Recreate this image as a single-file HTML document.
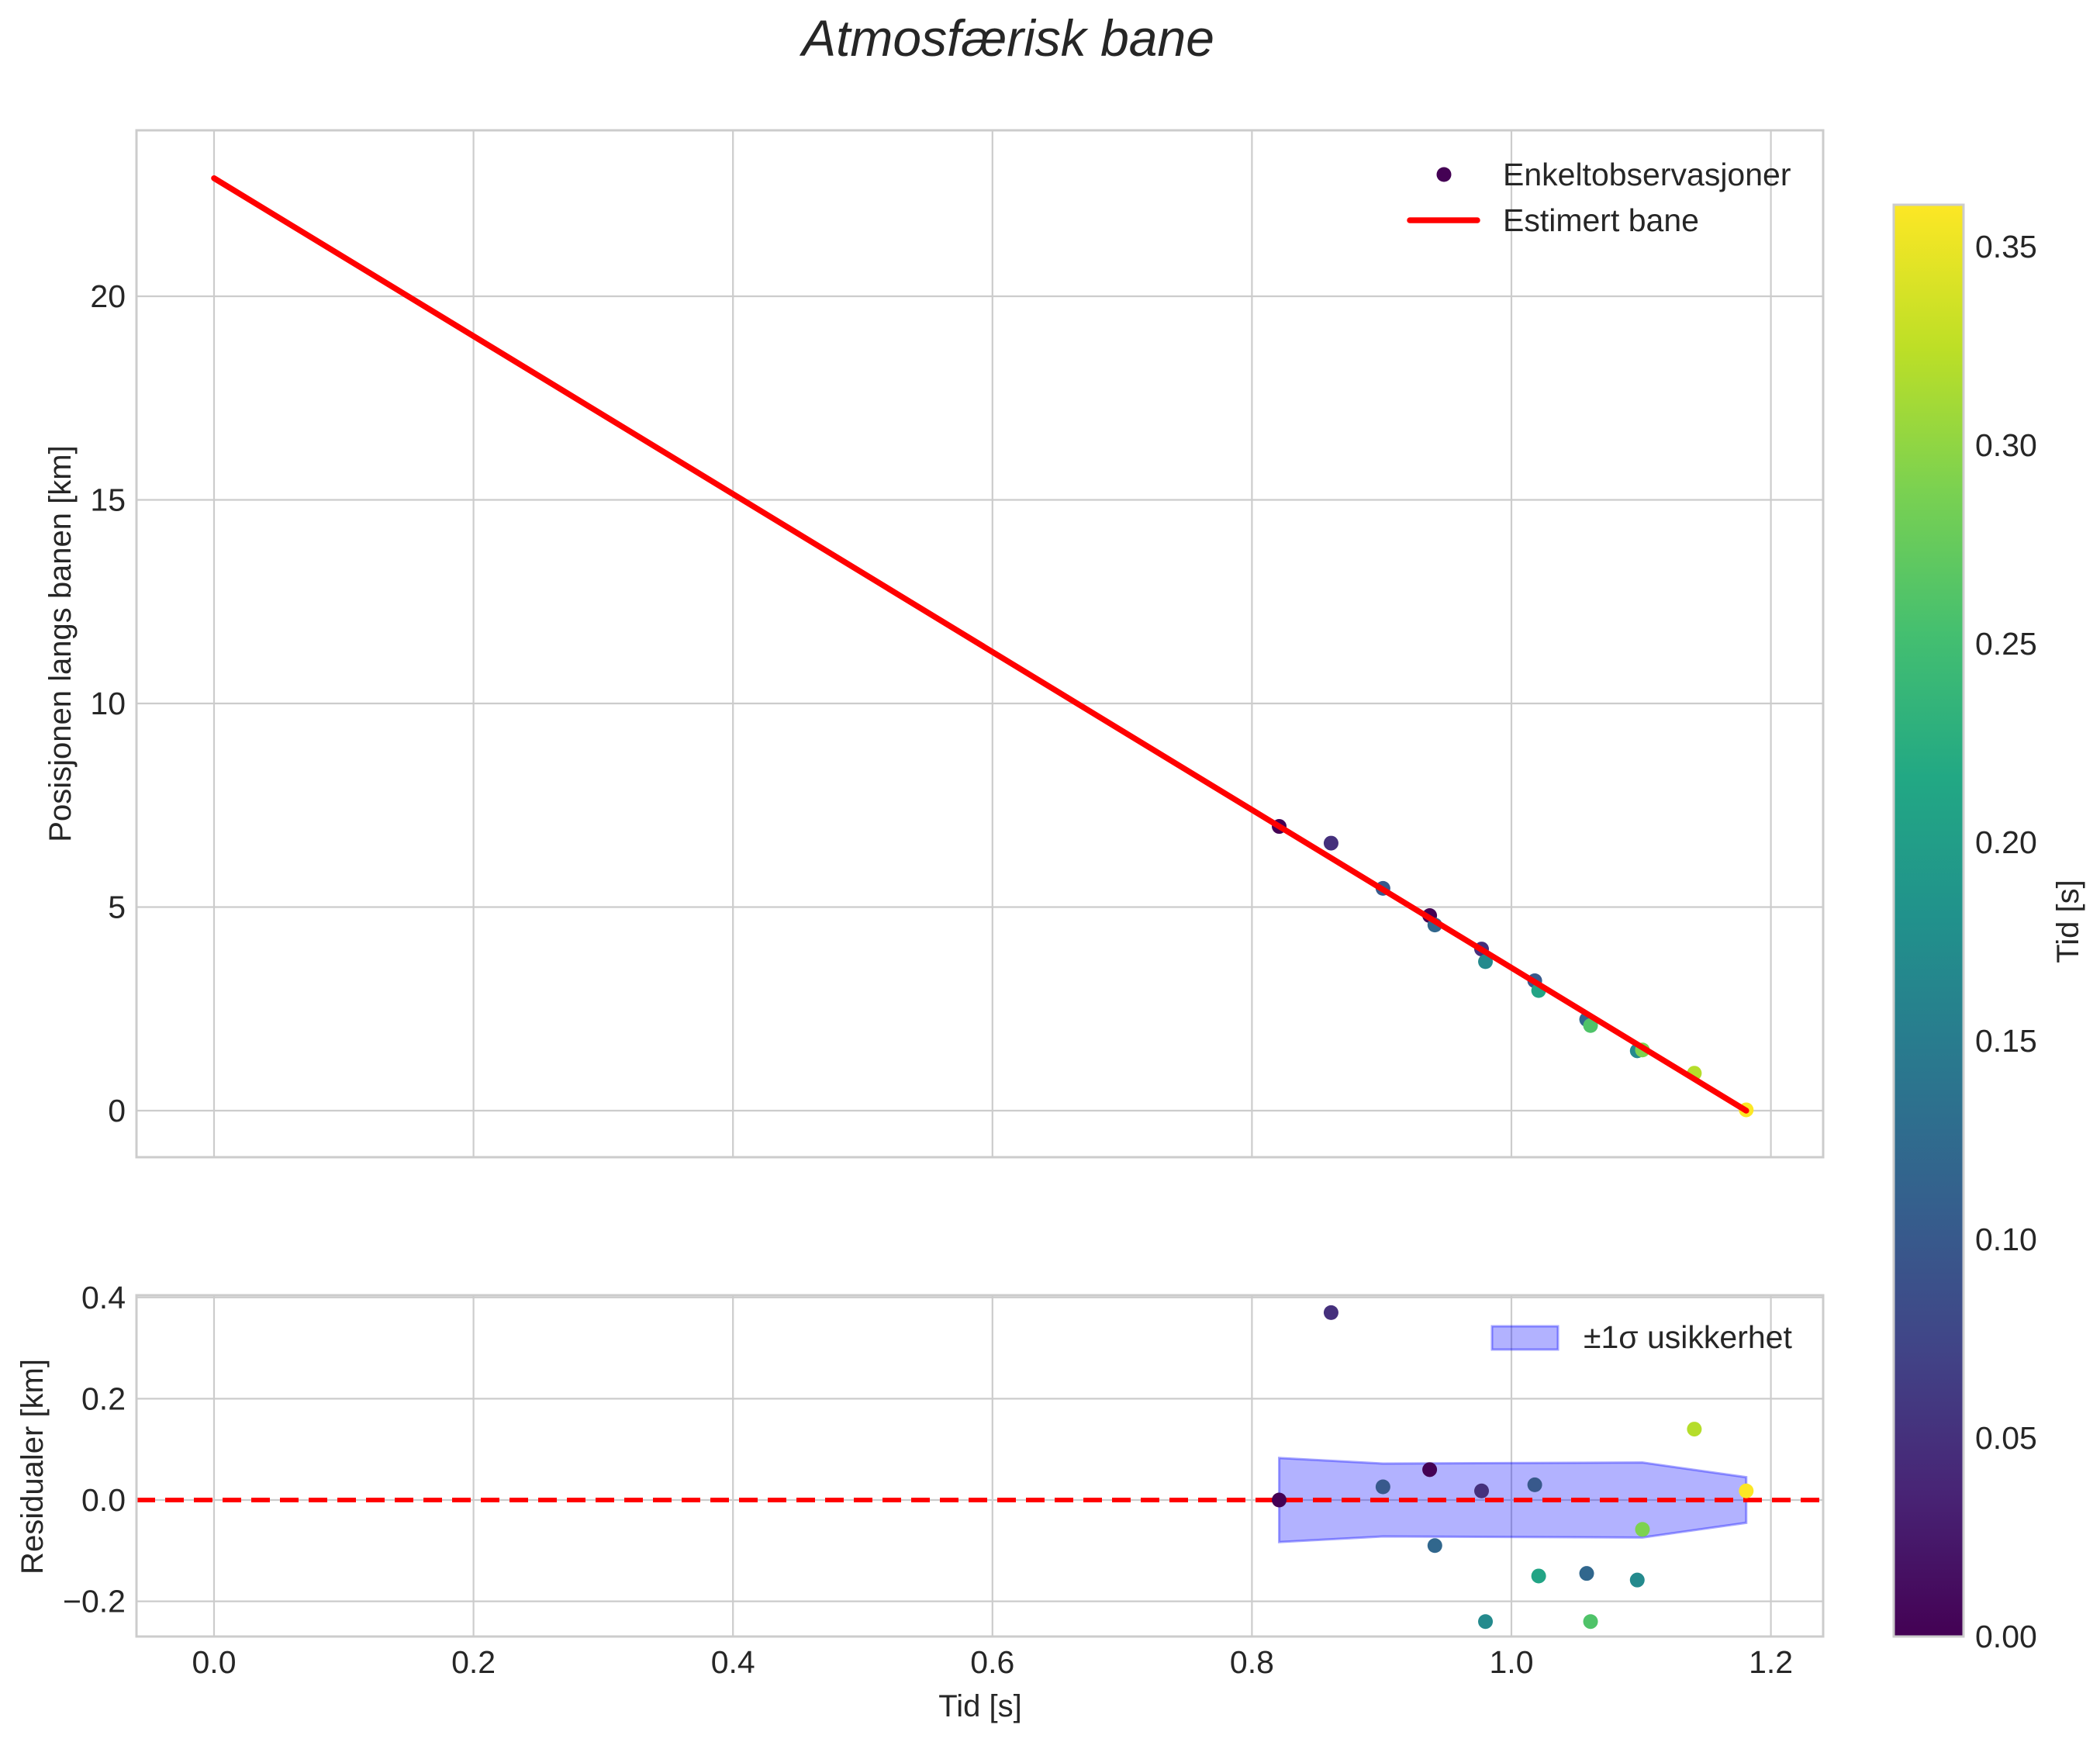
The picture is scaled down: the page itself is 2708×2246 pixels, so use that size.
<!DOCTYPE html>
<html><head><meta charset="utf-8"><style>
html,body{margin:0;padding:0;background:#fff;}
svg{display:block;font-family:"Liberation Sans",Arial,sans-serif;}
</style></head><body>
<svg id="chart" xmlns="http://www.w3.org/2000/svg" width="2708" height="2246" viewBox="0 0 2708 2246">
<defs>
<linearGradient id="vir" x1="0" y1="1" x2="0" y2="0">
<stop offset="0" stop-color="#440154"/><stop offset="0.1" stop-color="#482475"/><stop offset="0.2" stop-color="#414487"/><stop offset="0.3" stop-color="#355f8d"/><stop offset="0.4" stop-color="#2a788e"/><stop offset="0.5" stop-color="#21918c"/><stop offset="0.6" stop-color="#22a884"/><stop offset="0.7" stop-color="#44bf70"/><stop offset="0.8" stop-color="#7ad151"/><stop offset="0.9" stop-color="#bddf26"/><stop offset="1" stop-color="#fde725"/>
</linearGradient>
<clipPath id="clipTop"><rect x="176" y="168" width="2175" height="1324"/></clipPath>
<clipPath id="clipBot"><rect x="176" y="1670" width="2175" height="440"/></clipPath>
</defs>
<text x="1300" y="72" text-anchor="middle" font-size="66" font-style="italic" fill="#262626">Atmosfærisk bane</text>
<g id="topAxes"></g>
<g id="botAxes"></g>
<g id="cbar"></g>
</svg>
<script>
const times = [0.821,0.861,0.901,0.937,0.941,0.977,0.980,1.018,1.021,1.058,1.061,1.097,1.101,1.141,1.181];
const positions = [6.98,6.57,5.46,4.79,4.56,3.97,3.66,3.19,2.95,2.24,2.09,1.47,1.49,0.92,0.02];
const residuals = [0.0,0.37,0.026,0.06,-0.09,0.018,-0.24,0.03,-0.15,-0.145,-0.24,-0.158,-0.058,0.14,0.018];
const colorVals = [0.0,0.05,0.10,0.0,0.12,0.05,0.17,0.10,0.21,0.12,0.26,0.17,0.29,0.32,0.36];
const fitTimes = [0.0,1.181];
const fitPos = [22.9,0.0];
const bandTimes = [0.821,0.901,1.101,1.181];
const bandSigma = [0.083,0.072,0.074,0.045];
const xTicks = [0.0,0.2,0.4,0.6,0.8,1.0,1.2];
const xTickLabels = ["0.0","0.2","0.4","0.6","0.8","1.0","1.2"];
const yTopTicks = [0,5,10,15,20];
const yTopTickLabels = ["0","5","10","15","20"];
const yBotTicks = [-0.2,0.0,0.2,0.4];
const yBotTickLabels = ["\u22120.2","0.0","0.2","0.4"];
const cbTicks = [0,0.05,0.10,0.15,0.20,0.25,0.30,0.35];
const cbTickLabels = ["0.00","0.05","0.10","0.15","0.20","0.25","0.30","0.35"];

const NS="http://www.w3.org/2000/svg";
function mk(parent,tag,attrs,text){const e=document.createElementNS(NS,tag);for(const k in attrs)e.setAttribute(k,attrs[k]);if(text!==undefined)e.textContent=text;parent.appendChild(e);return e;}
const L=176,R=2351;
const X=v=>276+(v-0)*1673;
const Ytop=v=>1432-v*52.5;
const Ybot=v=>1934-v*653;
const CB0=2110,CBmax=0.3605;
const Ycb=v=>CB0-v/CBmax*(2110-264);
const stops=[[68,1,84],[72,36,117],[65,68,135],[53,95,141],[42,120,142],[33,145,140],[34,168,132],[68,191,112],[122,209,81],[189,223,38],[253,231,37]];
function vir(v){let t=Math.max(0,Math.min(1,v/CBmax))*10;let i=Math.min(9,Math.floor(t));let f=t-i;const a=stops[i],b=stops[i+1];return`rgb(${a.map((c,k)=>Math.round(c+(b[k]-c)*f)).join(',')})`;}

const topG=document.getElementById('topAxes');
let g=mk(topG,'g',{});


xTicks.forEach(v=>{mk(g,'line',{x1:X(v),x2:X(v),y1:168,y2:1492,stroke:'#cccccc','stroke-width':2.2});});
yTopTicks.forEach((v,i)=>{mk(g,'line',{x1:L,x2:R,y1:Ytop(v),y2:Ytop(v),stroke:'#cccccc','stroke-width':2.2});
 const t=mk(topG,'text',{x:162,y:Ytop(v)+14,'text-anchor':'end','font-size':41,fill:'#262626'},yTopTickLabels[i]);
 
 });
times.forEach((t,i)=>{const c=mk(topG,'circle',{cx:X(t),cy:Ytop(positions[i]),r:9.5,fill:vir(colorVals[i])});
 
 });
let fl=mk(topG,'polyline',{points:fitTimes.map((t,i)=>X(t)+','+Ytop(fitPos[i])).join(' '),fill:'none',stroke:'#ff0000','stroke-width':7.5,'stroke-linecap':'round','clip-path':'url(#clipTop)'});


let sp=mk(topG,'rect',{x:L,y:168,width:R-L,height:1324,fill:'none',stroke:'#cccccc','stroke-width':3});


let yl=mk(topG,'text',{transform:'translate(91,830) rotate(-90)','text-anchor':'middle','font-size':40,fill:'#262626'},'Posisjonen langs banen [km]');


let lg=mk(topG,'g',{});


let lm=mk(lg,'circle',{cx:1862,cy:225,r:9.5,fill:'#440154'});


let lt=mk(lg,'text',{x:1938,y:239,'font-size':41,fill:'#262626'},'Enkeltobservasjoner');


let ll=mk(lg,'line',{x1:1818,x2:1905,y1:284,y2:284,stroke:'#ff0000','stroke-width':7.5,'stroke-linecap':'round'});


let lt2=mk(lg,'text',{x:1938,y:298,'font-size':41,fill:'#262626'},'Estimert bane');



const botG=document.getElementById('botAxes');
let g2=mk(botG,'g',{});


xTicks.forEach((v,i)=>{mk(g2,'line',{x1:X(v),x2:X(v),y1:1670,y2:2110,stroke:'#cccccc','stroke-width':2.2});
 const t=mk(botG,'text',{x:X(v),y:2157,'text-anchor':'middle','font-size':41,fill:'#262626'},xTickLabels[i]);
 
 });
yBotTicks.forEach((v,i)=>{mk(g2,'line',{x1:L,x2:R,y1:Ybot(v),y2:Ybot(v),stroke:'#cccccc','stroke-width':2.2});
 const t=mk(botG,'text',{x:162,y:Ybot(v)+14,'text-anchor':'end','font-size':41,fill:'#262626'},yBotTickLabels[i]);
 
 });
const up=bandTimes.map((t,i)=>X(t)+','+Ybot(bandSigma[i]));
const dn=bandTimes.map((t,i)=>X(t)+','+Ybot(-bandSigma[i])).reverse();
let band=mk(botG,'polygon',{points:up.concat(dn).join(' '),fill:'rgba(0,0,255,0.3)',stroke:'rgba(0,0,255,0.35)','stroke-width':3});


let zl=mk(botG,'line',{x1:L,x2:R,y1:Ybot(0),y2:Ybot(0),stroke:'#ff0000','stroke-width':6,'stroke-dasharray':'24 13'});


times.forEach((t,i)=>{const c=mk(botG,'circle',{cx:X(t),cy:Ybot(residuals[i]),r:9.5,fill:vir(colorVals[i]),'clip-path':'url(#clipBot)'});
 
 });
let sp2=mk(botG,'rect',{x:L,y:1670,width:R-L,height:440,fill:'none',stroke:'#cccccc','stroke-width':3});


let yl2=mk(botG,'text',{transform:'translate(55,1891) rotate(-90)','text-anchor':'middle','font-size':40,fill:'#262626'},'Residualer [km]');


let xl=mk(botG,'text',{x:1264,y:2213,'text-anchor':'middle','font-size':40,fill:'#262626'},'Tid [s]');


let bl=mk(botG,'g',{});


let bp=mk(bl,'rect',{x:1924,y:1710,width:85,height:30,fill:'rgba(0,0,255,0.3)',stroke:'rgba(0,0,255,0.35)','stroke-width':3});


let bt=mk(bl,'text',{x:2042,y:1738,'font-size':41,fill:'#262626'},'±1σ usikkerhet');



const cb=document.getElementById('cbar');
let cr=mk(cb,'rect',{x:2442,y:264,width:90,height:1846,fill:'url(#vir)',stroke:'#cccccc','stroke-width':3});


cbTicks.forEach((v,i)=>{const t=mk(cb,'text',{x:2547,y:Ycb(v)+14,'font-size':41,fill:'#262626'},cbTickLabels[i]);
 
 });
let ct=mk(cb,'text',{transform:'translate(2680,1188) rotate(-90)','text-anchor':'middle','font-size':40,fill:'#262626'},'Tid [s]');


</script>
</body></html>
